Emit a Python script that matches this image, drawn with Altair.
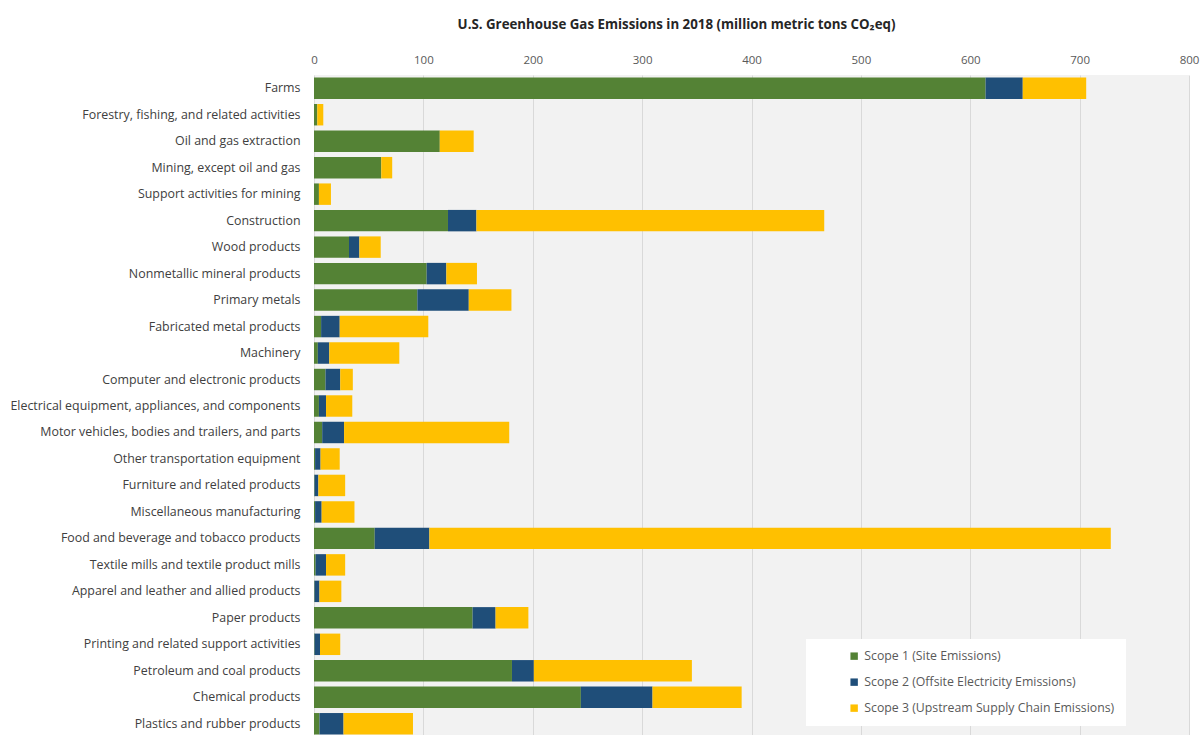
import altair as alt
import pandas as pd

# Industry sectors, top to bottom
sectors = [
    "Farms",
    "Forestry, fishing, and related activities",
    "Oil and gas extraction",
    "Mining, except oil and gas",
    "Support activities for mining",
    "Construction",
    "Wood products",
    "Nonmetallic mineral products",
    "Primary metals",
    "Fabricated metal products",
    "Machinery",
    "Computer and electronic products",
    "Electrical equipment, appliances, and components",
    "Motor vehicles, bodies and trailers, and parts",
    "Other transportation equipment",
    "Furniture and related products",
    "Miscellaneous manufacturing",
    "Food and beverage and tobacco products",
    "Textile mills and textile product mills",
    "Apparel and leather and allied products",
    "Paper products",
    "Printing and related support activities",
    "Petroleum and coal products",
    "Chemical products",
    "Plastics and rubber products",
]

# Emissions by scope, million metric tons CO2eq
scope1 = [614, 3, 115, 61.5, 4.5, 122.5, 32, 103, 94.5, 6.5, 3.5, 10.5, 4.5, 7.5,
          1, 0.5, 1, 55.5, 1.5, 0.5, 145, 0.5, 181, 244, 5]
scope2 = [34, 0, 0, 0, 0, 26, 9.5, 18, 47, 17, 10.5, 13.5, 6.5, 20,
          5, 3.5, 6, 50, 9.5, 4.5, 21, 5, 20, 65.5, 22]
scope3 = [58, 5.5, 31, 10, 11, 318, 19.5, 28, 39, 81, 64, 11.5, 24, 151,
          17.5, 24.5, 30, 623, 17.5, 20, 30, 18.5, 144.5, 81.5, 63.5]

scope_names = [
    "Scope 1 (Site Emissions)",
    "Scope 2 (Offsite Electricity Emissions)",
    "Scope 3 (Upstream Supply Chain Emissions)",
]
scope_colors = ["#548235", "#1F4E79", "#FFC000"]

rows = []
for i, s in enumerate(sectors):
    for k, vals in enumerate([scope1, scope2, scope3]):
        rows.append({"sector": s, "scope": scope_names[k], "rank": k, "value": vals[i]})
df = pd.DataFrame(rows)

FONT = "Open Sans"

bars = alt.Chart(df).mark_bar().encode(
    y=alt.Y(
        "sector:N",
        sort=sectors,
        title=None,
        scale=alt.Scale(paddingInner=0.19, paddingOuter=0.095),
        axis=alt.Axis(
            domain=False, ticks=False, labelPadding=14, labelFontSize=12.4,
            labelColor="#404040", labelFont=FONT, labelLimit=320,
        ),
    ),
    x=alt.X(
        "value:Q",
        stack="zero",
        title=None,
        scale=alt.Scale(domain=[0, 800], nice=False),
        axis=alt.Axis(
            orient="top", values=list(range(0, 801, 100)), domain=False, ticks=False,
            labelFontSize=11.5, labelColor="#595959", labelFont=FONT, labelPadding=10,
            grid=True, gridColor="#D9D9D9", gridWidth=1, labelFlush=False,
        ),
    ),
    color=alt.Color(
        "scope:N",
        sort=scope_names,
        scale=alt.Scale(domain=scope_names, range=scope_colors),
        legend=alt.Legend(
            title=None, orient="none", legendX=492, legendY=564,
            fillColor="white", padding=11, symbolType="square", symbolSize=55,
            symbolStrokeWidth=0, labelFontSize=12.3, labelColor="#595959",
            labelFont=FONT, rowPadding=13, labelLimit=400,
            symbolOffset=31,
        ),
    ),
    order=alt.Order("rank:Q", sort="ascending"),
)

chart = bars.properties(
    width=875,
    height=662,
    autosize=alt.AutoSizeParams(type="none"),
    padding={"left": 314, "top": 75, "right": 12, "bottom": 0},
    background="white",
    title=alt.TitleParams(
        "U.S. Greenhouse Gas Emissions in 2018 (million metric tons CO₂eq)",
        font=FONT, fontSize=13.3, fontWeight="bold", color="#262626",
        anchor="middle", dx=-75, offset=23,
    ),
).configure_view(
    fill="#F2F2F2", stroke=None
)

chart.save("out.html", embed_options={"renderer": "svg", "actions": False})
